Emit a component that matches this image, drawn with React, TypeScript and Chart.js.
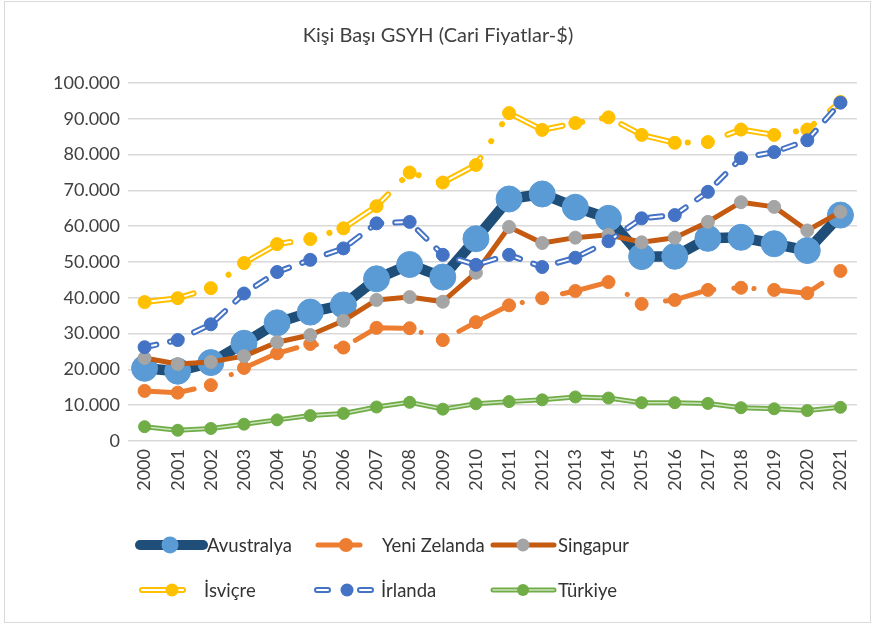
import React, { useEffect, useRef } from 'react';
import { Chart, registerables } from 'chart.js';

Chart.register(...registerables);

const years = ['2000', '2001', '2002', '2003', '2004', '2005', '2006', '2007', '2008', '2009', '2010', '2011', '2012', '2013', '2014', '2015', '2016', '2017', '2018', '2019', '2020', '2021'];
const avustralya = [20300, 19500, 21900, 27300, 33000, 36000, 38000, 45300, 49300, 45800, 56500, 67600, 69000, 65300, 62200, 51500, 51600, 56600, 56900, 55100, 53200, 63100];
const yeniZelanda = [14000, 13500, 15600, 20400, 24500, 27100, 26100, 31600, 31500, 28200, 33200, 37900, 39900, 41900, 44400, 38300, 39400, 42200, 42800, 42200, 41300, 47500];
const singapur = [23200, 21500, 22100, 23700, 27600, 29600, 33600, 39400, 40200, 38900, 47000, 59800, 55300, 56800, 57600, 55500, 56800, 61200, 66700, 65400, 58800, 64000];
const isvicre = [38800, 39900, 42700, 49700, 55000, 56400, 59400, 65600, 75000, 72200, 77100, 91600, 86900, 88800, 90400, 85500, 83300, 83500, 87000, 85500, 87000, 94700];
const irlanda = [26200, 28200, 32600, 41200, 47200, 50600, 53800, 60800, 61200, 52000, 49200, 52000, 48600, 51200, 55800, 62200, 63100, 69600, 79000, 80700, 84000, 94500];
const turkiye = [4000, 3000, 3500, 4700, 5900, 7100, 7700, 9500, 10800, 8900, 10400, 11000, 11500, 12300, 12000, 10700, 10700, 10500, 9300, 9000, 8500, 9400];

const yTickMax = 100000;
const yTickStep = 10000;
const titleText = 'Kişi Başı GSYH (Cari Fiyatlar-$)';
const FONT = 'Lato';

type Series = {
  label: string;
  data: number[];
  line: string;
  lineWidth: number;
  dash: number[];
  inner: null | { color: string; width: number; dash: number[] };
  marker: string;
  r: number;
  legendR: number;
  legendLineWidth: number;
  legendDash?: number[];
};

const longDashDotDot = [50, 20, 0.1, 20, 0.1, 21];
const longDashOnly = [50, 61.2];

const series: Series[] = [
  { label: 'Avustralya', data: avustralya, line: '#1F4E79', lineWidth: 10.5, dash: [], inner: null, marker: '#5B9BD5', r: 13, legendR: 8.5, legendLineWidth: 10 },
  { label: 'Yeni Zelanda', data: yeniZelanda, line: '#ED7D31', lineWidth: 5, dash: longDashDotDot, inner: null, marker: '#ED7D31', r: 6.5, legendR: 7, legendLineWidth: 5 },
  { label: 'Singapur', data: singapur, line: '#C55A11', lineWidth: 5, dash: [], inner: null, marker: '#A5A5A5', r: 6.5, legendR: 6.5, legendLineWidth: 5 },
  { label: 'İsviçre', data: isvicre, line: '#FFC000', lineWidth: 6, dash: longDashDotDot, inner: { color: '#FFFFFF', width: 2, dash: longDashOnly }, marker: '#FFC000', r: 6.5, legendR: 6.5, legendLineWidth: 6 },
  { label: 'İrlanda', data: irlanda, line: '#4472C4', lineWidth: 6, dash: [12, 14], inner: { color: '#FFFFFF', width: 2, dash: [12, 14] }, marker: '#4472C4', r: 6.5, legendR: 6.5, legendLineWidth: 6, legendDash: [11, 32] },
  { label: 'Türkiye', data: turkiye, line: '#70AD47', lineWidth: 5, dash: [], inner: { color: 'rgba(255,255,255,0.65)', width: 1.5, dash: [] }, marker: '#70AD47', r: 6, legendR: 6, legendLineWidth: 5 },
];

const legendLayout = [
  { x1: 140, x2: 203, mx: 170, y: 545, tx: 207 },
  { x1: 318, x2: 360, mx: 346, y: 545, tx: 382 },
  { x1: 493, x2: 554, mx: 523, y: 545, tx: 558 },
  { x1: 142, x2: 183, mx: 172, y: 590, tx: 204 },
  { x1: 317, x2: 376, mx: 347, y: 590, tx: 381 },
  { x1: 493, x2: 554, mx: 523, y: 590, tx: 558 },
];

const fmt = (v: number) => (v === 0 ? '0' : String(v).replace(/\B(?=(\d{3})+(?!\d))/g, '.'));

const frameplugin = {
  id: 'frame',
  beforeDraw(chart: any) {
    const ctx = chart.ctx;
    ctx.save();
    ctx.fillStyle = '#FFFFFF';
    ctx.fillRect(0, 0, chart.width, chart.height);
    ctx.strokeStyle = '#D9D9D9';
    ctx.lineWidth = 1;
    ctx.strokeRect(4.5, 1.5, 866, 621);
    ctx.restore();
  },
};

const legendPlugin = {
  id: 'excelLegend',
  afterDraw(chart: any) {
    const ctx = chart.ctx as CanvasRenderingContext2D;
    ctx.save();
    series.forEach((s, i) => {
      const L = legendLayout[i];
      ctx.lineCap = 'round';
      ctx.lineJoin = 'round';
      const dash = s.legendDash || s.dash;
      ctx.setLineDash(dash);
      ctx.strokeStyle = s.line;
      ctx.lineWidth = s.legendLineWidth;
      ctx.beginPath();
      ctx.moveTo(L.x1, L.y);
      ctx.lineTo(L.x2, L.y);
      ctx.stroke();
      if (s.inner) {
        ctx.setLineDash(s.legendDash || s.inner.dash);
        ctx.strokeStyle = s.inner.color;
        ctx.lineWidth = s.inner.width;
        ctx.beginPath();
        ctx.moveTo(L.x1, L.y);
        ctx.lineTo(L.x2, L.y);
        ctx.stroke();
      }
      ctx.setLineDash([]);
      ctx.fillStyle = s.marker;
      ctx.beginPath();
      ctx.arc(L.mx, L.y, s.legendR, 0, Math.PI * 2);
      ctx.fill();
      ctx.fillStyle = '#333333';
      ctx.font = `18.5px ${FONT}`;
      ctx.textBaseline = 'middle';
      ctx.textAlign = 'left';
      ctx.fillText(s.label, L.tx, L.y + 1);
    });
    ctx.restore();
  },
};

export default function App() {
  const ref = useRef<HTMLCanvasElement | null>(null);

  useEffect(() => {
    document.body.style.margin = '0';
    if (!ref.current) return;
    const datasets: any[] = [];
    series.forEach((s, i) => {
      const base = (5 - i) * 3;
      datasets.push({
        label: s.label,
        data: s.data,
        borderColor: s.line,
        backgroundColor: s.line,
        borderWidth: s.lineWidth,
        borderDash: s.dash,
        borderCapStyle: 'round',
        borderJoinStyle: 'round',
        pointRadius: 0,
        pointHoverRadius: 0,
        tension: 0,
        fill: false,
        order: base + 2,
      });
      if (s.inner) {
        datasets.push({
          label: s.label + ' (iç)',
          data: s.data,
          borderColor: s.inner.color,
          borderWidth: s.inner.width,
          borderDash: s.inner.dash,
          borderCapStyle: 'round',
          borderJoinStyle: 'round',
          pointRadius: 0,
          pointHoverRadius: 0,
          tension: 0,
          fill: false,
          order: base + 1,
        });
      }
      datasets.push({
        label: s.label + ' (işaret)',
        data: s.data,
        showLine: false,
        pointRadius: s.r,
        pointHoverRadius: s.r,
        pointBackgroundColor: s.marker,
        pointBorderColor: s.marker,
        pointBorderWidth: 1,
        order: base,
      });
    });

    const chart = new Chart(ref.current, {
      type: 'line',
      data: { labels: years, datasets },
      options: {
        responsive: false,
        animation: false,
        devicePixelRatio: 1,
        layout: { padding: { left: 19, right: 19, top: 0, bottom: 116 } },
        plugins: {
          legend: { display: false },
          tooltip: { enabled: false },
          title: {
            display: true,
            text: titleText,
            color: '#404040',
            font: { family: FONT, size: 20, weight: 'normal' },
            padding: { top: 24, bottom: 35 },
          },
        },
        scales: {
          x: {
            offset: true,
            grid: { display: false, drawTicks: false },
            border: { display: false },
            ticks: {
              color: '#404040',
              font: { family: FONT, size: 18 },
              minRotation: 90,
              maxRotation: 90,
              padding: 8,
              autoSkip: false,
            },
            afterFit: (scale: any) => {
              scale.height = 70;
            },
          },
          y: {
            min: 0,
            max: yTickMax,
            grid: { color: '#D9D9D9', lineWidth: 1.5, drawTicks: false },
            border: { display: false },
            ticks: {
              stepSize: yTickStep,
              color: '#404040',
              font: { family: FONT, size: 18 },
              padding: 8,
              callback: (v: any) => fmt(Number(v)),
            },
            afterFit: (scale: any) => {
              scale.width = 109;
            },
          },
        },
      },
      plugins: [frameplugin, legendPlugin],
    });
    return () => chart.destroy();
  }, []);

  return (
    <div style={{ position: 'fixed', left: 0, top: 0, width: 876, height: 627, background: '#fff' }}>
      <canvas ref={ref} width={876} height={627} style={{ width: 876, height: 627, display: 'block' }} />
    </div>
  );
}
